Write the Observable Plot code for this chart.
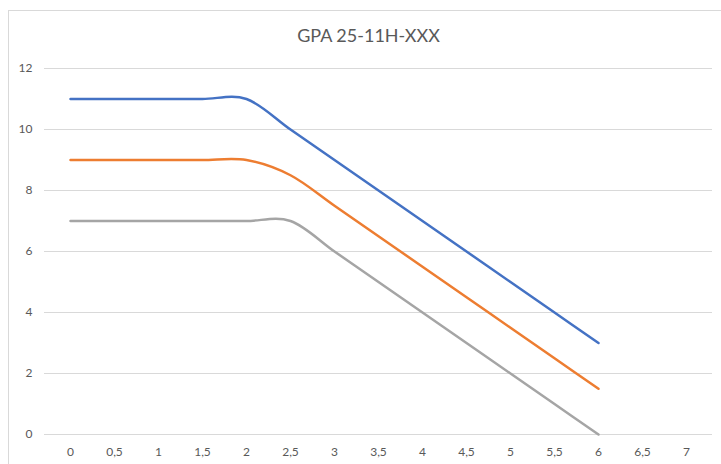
<!DOCTYPE html>
<html>
<head>
<meta charset="utf-8">
<script src="https://cdn.jsdelivr.net/npm/d3@7"></script>
<script src="https://cdn.jsdelivr.net/npm/@observablehq/plot@0.6"></script>
<style>
  html, body { margin: 0; padding: 0; background: #fff; }
  #frame { position: absolute; left: 8px; top: 10px; width: 800px; height: 500px;
           border-left: 1px solid #d9d9d9; border-top: 1px solid #d9d9d9; }
  #title { position: absolute; left: 0; top: 24px; width: 737px; text-align: center;
           font-family: Lato, sans-serif; font-size: 18px; color: #595959; }
  #chart { position: absolute; left: 0; top: 55px; }
</style>
</head>
<body>
<div id="frame"></div>
<div id="title">GPA 25-11H-XXX</div>
<div id="chart"></div>
<script>
const categories = ["0","0,5","1","1,5","2","2,5","3","3,5","4","4,5","5","5,5","6","6,5","7"];
const seriesBlue   = [11, 11, 11, 11, 11, 10, 9, 8, 7, 6, 5, 4, 3];
const seriesOrange = [9, 9, 9, 9, 9, 8.5, 7.5, 6.5, 5.5, 4.5, 3.5, 2.5, 1.5];
const seriesGray   = [7, 7, 7, 7, 7, 7, 6, 5, 4, 3, 2, 1, 0];
const yTicks = [0, 2, 4, 6, 8, 10, 12];

const series = [
  {name: "Serie 1", values: seriesBlue, color: "#4472C4"},
  {name: "Serie 2", values: seriesOrange, color: "#ED7D31"},
  {name: "Serie 3", values: seriesGray, color: "#A5A5A5"}
];

const marks = [
  Plot.gridY(yTicks, {stroke: "#d9d9d9", strokeOpacity: 1, strokeWidth: 1}),
  Plot.axisY(yTicks, {tickSize: 0, tickPadding: 12, fontSize: 12, fill: "#595959"}),
  Plot.axisX(categories, {tickSize: 0, tickPadding: 13, fontSize: 12, fill: "#595959"})
];
for (const s of series) {
  const rows = s.values.map((v, i) => ({x: categories[i], y: v}));
  marks.push(Plot.line(rows, {x: "x", y: "y", stroke: s.color, strokeWidth: 2.5,
    curve: "cardinal", tension: 0}));
}

const chart = Plot.plot({
  width: 721,
  height: 409,
  marginLeft: 44,
  marginRight: 9,
  marginTop: 13,
  marginBottom: 30,
  style: {fontFamily: "Lato, sans-serif", background: "transparent", overflow: "visible"},
  x: {type: "point", domain: categories, padding: 0.5, label: null},
  y: {domain: [0, 12], label: null},
  marks
});
document.getElementById("chart").appendChild(chart);
</script>
</body>
</html>
